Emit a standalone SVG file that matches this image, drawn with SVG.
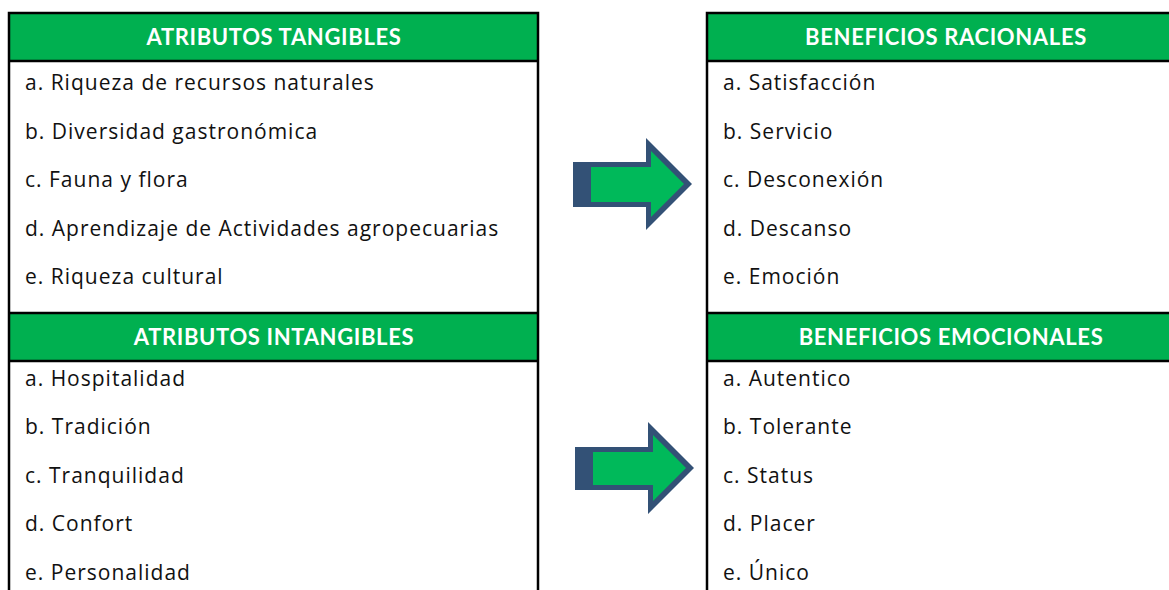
<svg xmlns="http://www.w3.org/2000/svg" width="1169" height="590" viewBox="0 0 1169 590">
<style>
.hdr{fill:#00B050}
.ln{stroke:#000;stroke-width:2.5;fill:none}
.ht{font-family:Lato,"Liberation Sans",sans-serif;font-weight:bold;font-size:22px;letter-spacing:0.65px;fill:#fff;text-anchor:middle}
.bt{font-family:"Open Sans","Noto Sans",sans-serif;font-size:21px;letter-spacing:1px;fill:#111}
.arrO{fill:#335176}
.arrI{fill:#00B95A}
</style>
<rect width="1169" height="590" fill="#fff"/>
<g id="tangibles">
<rect class="hdr" x="9" y="13" width="529" height="48"/>
<text class="ht" x="274" y="45">ATRIBUTOS TANGIBLES</text>
<text class="bt" x="25" y="90">a. Riqueza de recursos naturales</text>
<text class="bt" x="25" y="138.5">b. Diversidad gastronómica</text>
<text class="bt" x="25" y="187">c. Fauna y flora</text>
<text class="bt" x="25" y="235.5">d. Aprendizaje de Actividades agropecuarias</text>
<text class="bt" x="25" y="284">e. Riqueza cultural</text>
</g>
<g id="intangibles">
<rect class="hdr" x="9" y="313" width="529" height="48"/>
<text class="ht" x="274" y="345">ATRIBUTOS INTANGIBLES</text>
<text class="bt" x="25" y="385.5">a. Hospitalidad</text>
<text class="bt" x="25" y="434">b. Tradición</text>
<text class="bt" x="25" y="482.5">c. Tranquilidad</text>
<text class="bt" x="25" y="531">d. Confort</text>
<text class="bt" x="25" y="579.5">e. Personalidad</text>
</g>
<g id="racionales">
<rect class="hdr" x="707" y="13" width="462" height="48"/>
<text class="ht" x="946" y="45">BENEFICIOS RACIONALES</text>
<text class="bt" x="723" y="90">a. Satisfacción</text>
<text class="bt" x="723" y="138.5">b. Servicio</text>
<text class="bt" x="723" y="187">c. Desconexión</text>
<text class="bt" x="723" y="235.5">d. Descanso</text>
<text class="bt" x="723" y="284">e. Emoción</text>
</g>
<g id="emocionales">
<rect class="hdr" x="707" y="313" width="462" height="48"/>
<text class="ht" x="951" y="345">BENEFICIOS EMOCIONALES</text>
<text class="bt" x="723" y="385.5">a. Autentico</text>
<text class="bt" x="723" y="434">b. Tolerante</text>
<text class="bt" x="723" y="482.5">c. Status</text>
<text class="bt" x="723" y="531">d. Placer</text>
<text class="bt" x="723" y="579.5">e. Único</text>
</g>
<g id="borders">
<path class="ln" d="M9,590 V13 H538 V590 M9,61 H538 M9,313 H538 M9,361 H538"/>
<path class="ln" d="M707,590 V13 H1169 M707,61 H1169 M707,313 H1169 M707,361 H1169"/>
</g>
<g id="connectors">
<g id="arrow1">
<polygon class="arrO" points="573,162 646,162 646,138 692,184 646,230 646,207 573,207"/>
<polygon class="arrI" points="591,167 651,167 651,151 684,184 651,217 651,202 591,202"/>
</g>
<g id="arrow2">
<polygon class="arrO" points="575,447 648,447 648,422 694,468 648,514 648,490 575,490"/>
<polygon class="arrI" points="593,452 653,452 653,435 686,468 653,501 653,485 593,485"/>
</g>
</g>
</svg>
